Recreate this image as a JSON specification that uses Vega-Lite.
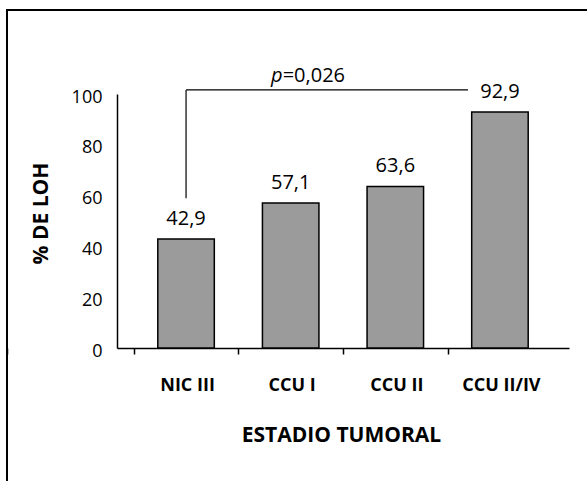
{
  "$schema": "https://vega.github.io/schema/vega-lite/v6.json",
  "width": 600,
  "height": 490,
  "autosize": {"type": "none"},
  "padding": {"left": 7, "top": 10, "right": 0, "bottom": 0},
  "background": "white",
  "config": {
    "view": {"stroke": "black", "strokeWidth": 2},
    "font": "Open Sans",
    "axis": {"labelColor": "black", "titleColor": "black", "labelFont": "Open Sans", "titleFont": "Open Sans", "grid": false}
  },
  "datasets": {
    "bars": [
      {"estadio": "NIC III", "loh": 42.9, "label": "42,9"},
      {"estadio": "CCU I", "loh": 57.1, "label": "57,1"},
      {"estadio": "CCU II", "loh": 63.6, "label": "63,6"},
      {"estadio": "CCU II/IV", "loh": 92.9, "label": "92,9"}
    ],
    "bracket": [
      {"estadio": "NIC III", "estadio2": "CCU II/IV", "loh": 101.6, "loh2": 59}
    ],
    "ptext": [
      {"estadio": "CCU I", "loh": 101.6, "p": "p", "rest": "=0,026"}
    ]
  },
  "layer": [
    {
      "data": {"name": "bars"},
      "mark": {"type": "bar", "fill": "#9b9b9b", "stroke": "black", "strokeWidth": 1.5},
      "encoding": {
        "x": {
          "field": "estadio", "type": "nominal", "sort": null,
          "scale": {"domain": ["NIC III", "CCU I", "CCU II", "CCU II/IV"], "range": [110, 562], "paddingInner": 0.46, "paddingOuter": 0.39},
          "axis": {
            "title": "ESTADIO TUMORAL", "orient": "bottom", "offset": -152, "labelAngle": 0,
            "bandPosition": 0, "tickOffset": -24, "tickExtra": true, "labelOffset": 25,
            "tickSize": 6, "tickWidth": 1.5, "tickColor": "black",
            "domainColor": "black", "domainWidth": 1.5,
            "labelFontSize": 18, "labelFontWeight": "bold", "labelPadding": 22,
            "titleFontSize": 21, "titleFontWeight": "bold", "titleX": 334, "titleY": 87,
            "titleBaseline": "middle", "titleAlign": "center"
          }
        },
        "y": {
          "field": "loh", "type": "quantitative",
          "scale": {"domain": [0, 100], "range": [338, 84], "nice": false},
          "axis": {
            "title": "% DE LOH", "values": [0, 20, 40, 60, 80, 100], "ticks": false, "tickSize": 0,
            "offset": -110, "domainColor": "black", "domainWidth": 1.5,
            "labelFontSize": 18, "labelPadding": 15, "labelOffset": 3,
            "titleFontSize": 21, "titleFontWeight": "bold", "titleX": -76, "titleY": 203,
            "titleAngle": -90, "titleAlign": "center", "titleBaseline": "middle"
          }
        }
      }
    },
    {
      "data": {"name": "bars"},
      "mark": {"type": "text", "fontSize": 20, "baseline": "alphabetic", "dy": -14, "color": "black"},
      "encoding": {
        "x": {"field": "estadio", "type": "nominal", "sort": null},
        "y": {"field": "loh", "type": "quantitative"},
        "text": {"field": "label"}
      }
    },
    {
      "data": {"name": "bracket"},
      "mark": {"type": "rule", "color": "black", "strokeWidth": 1.2, "x2Offset": -32},
      "encoding": {
        "x": {"field": "estadio", "type": "nominal", "sort": null},
        "x2": {"field": "estadio2"},
        "y": {"field": "loh", "type": "quantitative"}
      }
    },
    {
      "data": {"name": "bracket"},
      "mark": {"type": "rule", "color": "black", "strokeWidth": 1.2},
      "encoding": {
        "x": {"field": "estadio", "type": "nominal", "sort": null},
        "y": {"field": "loh", "type": "quantitative"},
        "y2": {"field": "loh2"}
      }
    },
    {
      "data": {"name": "ptext"},
      "mark": {"type": "text", "fontSize": 20, "fontStyle": "italic", "align": "right", "baseline": "alphabetic", "dx": -8, "dy": -8, "color": "black"},
      "encoding": {
        "x": {"field": "estadio", "type": "nominal", "sort": null},
        "y": {"field": "loh", "type": "quantitative"},
        "text": {"field": "p"}
      }
    },
    {
      "data": {"name": "ptext"},
      "mark": {"type": "text", "fontSize": 20, "align": "left", "baseline": "alphabetic", "dx": -8, "dy": -8, "color": "black"},
      "encoding": {
        "x": {"field": "estadio", "type": "nominal", "sort": null},
        "y": {"field": "loh", "type": "quantitative"},
        "text": {"field": "rest"}
      }
    }
  ]
}
